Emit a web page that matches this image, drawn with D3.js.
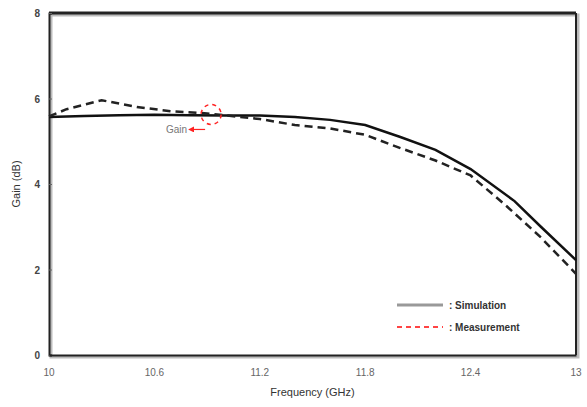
<html>
  <head>
    <script src="https://cdn.jsdelivr.net/npm/d3@7"></script>
    <style>
      body { margin: 0; background: #fff; }
      text { font-family: Arial, "Liberation Sans", sans-serif; }
    </style>
  </head>
  <body>
    <script>
      const width = 587, height = 407;

      // data
      const simFreq = [10, 10.2, 10.4, 10.6, 10.8, 11.0, 11.2, 11.4, 11.6, 11.8, 12.0, 12.2, 12.4, 12.65, 12.8, 13.0];
      const simGain = [5.57, 5.59, 5.61, 5.62, 5.61, 5.6, 5.6, 5.57, 5.5, 5.38, 5.1, 4.8, 4.35, 3.6, 3.0, 2.22];
      const measFreq = [10, 10.1, 10.3, 10.5, 10.7, 10.9, 11.2, 11.4, 11.6, 11.8, 12.0, 12.2, 12.4, 12.6, 12.8, 13.0];
      const measGain = [5.58, 5.75, 5.96, 5.8, 5.7, 5.65, 5.52, 5.38, 5.3, 5.15, 4.84, 4.55, 4.2, 3.5, 2.75, 1.9];
      const xTicks = [10, 10.6, 11.2, 11.8, 12.4, 13];
      const yTicks = [0, 2, 4, 6, 8];
      const legendLabels = [": Simulation", ": Measurement"];

      const margin = {left: 49, right: 11, top: 13, bottom: 52};

      const svg = d3.select("body").append("svg")
          .attr("width", width)
          .attr("height", height);

      const x = d3.scaleLinear().domain([10, 13]).range([margin.left, width - margin.right]);
      const y = d3.scaleLinear().domain([0, 8]).range([height - margin.bottom, margin.top]);

      // frame shadow
      svg.append("rect")
          .attr("x", x(10) + 2).attr("y", y(8) + 2)
          .attr("width", x(13) - x(10)).attr("height", y(0) - y(8))
          .attr("fill", "none").attr("stroke", "#bbb").attr("stroke-width", 3);

      // frame
      svg.append("line").attr("x1", x(10)).attr("x2", x(13)).attr("y1", y(8)).attr("y2", y(8))
          .attr("stroke", "#222").attr("stroke-width", 3);
      svg.append("line").attr("x1", x(13)).attr("x2", x(13)).attr("y1", y(8)).attr("y2", y(0))
          .attr("stroke", "#222").attr("stroke-width", 2);

      const yAxis = svg.append("g")
          .attr("transform", `translate(${x(10)},0)`)
          .call(d3.axisRight(y).tickValues(yTicks).tickSize(3).tickFormat(""));
      yAxis.select(".domain").attr("stroke", "#222").attr("stroke-width", 2);
      yAxis.selectAll(".tick line").attr("stroke", "#666");

      const xAxis = svg.append("g")
          .attr("transform", `translate(0,${y(0)})`)
          .call(d3.axisBottom(x).tickValues(xTicks).tickSize(0).tickFormat(""));
      xAxis.select(".domain").attr("stroke", "#222").attr("stroke-width", 2);

      // tick labels
      svg.selectAll(".ylab").data(yTicks).join("text")
          .attr("x", x(10) - 9).attr("y", d => y(d) + 4)
          .attr("text-anchor", "end")
          .attr("font-size", 10).attr("font-weight", "bold").attr("fill", "#444")
          .text(d => d);
      svg.selectAll(".xlab").data(xTicks).join("text")
          .attr("x", d => x(d)).attr("y", y(0) + 21)
          .attr("text-anchor", "middle")
          .attr("font-size", 10).attr("fill", "#666")
          .text(d => d);

      // axis titles
      svg.append("text")
          .attr("x", (x(10) + x(13)) / 2).attr("y", 396)
          .attr("text-anchor", "middle").attr("font-size", 11).attr("fill", "#333")
          .text("Frequency (GHz)");
      svg.append("text")
          .attr("transform", `translate(20,${y(4)}) rotate(-90)`)
          .attr("text-anchor", "middle").attr("font-size", 11).attr("fill", "#333")
          .text("Gain (dB)");

      const line = d3.line().x(d => x(d[0])).y(d => y(d[1]));

      svg.append("path")
          .datum(simFreq.map((f, i) => [f, simGain[i]]))
          .attr("d", line).attr("fill", "none")
          .attr("stroke", "#111").attr("stroke-width", 2.5);

      svg.append("path")
          .datum(measFreq.map((f, i) => [f, measGain[i]]))
          .attr("d", line).attr("fill", "none")
          .attr("stroke", "#222").attr("stroke-width", 2.5)
          .attr("stroke-dasharray", "8,5");

      // annotation: circle + arrow + "Gain"
      const cx = x(10.9) + 4, cy = y(5.65) + 1;
      svg.append("circle").attr("cx", cx).attr("cy", cy).attr("r", 10)
          .attr("fill", "none").attr("stroke", "#f22").attr("stroke-width", 1.5)
          .attr("stroke-dasharray", "4,4");
      svg.append("defs").append("marker")
          .attr("id", "arr").attr("viewBox", "0 0 10 10").attr("refX", 5).attr("refY", 5)
          .attr("markerWidth", 5).attr("markerHeight", 5).attr("orient", "auto")
          .append("path").attr("d", "M0,0L10,5L0,10Z").attr("fill", "#f22");
      svg.append("line")
          .attr("x1", cx - 6).attr("y1", cy + 15).attr("x2", cx - 20).attr("y2", cy + 15)
          .attr("stroke", "#f22").attr("stroke-width", 1.2).attr("marker-end", "url(#arr)");
      svg.append("text")
          .attr("x", cx - 24).attr("y", cy + 19).attr("text-anchor", "end")
          .attr("font-size", 10).attr("fill", "#777")
          .text("Gain");

      // legend
      const lg = svg.append("g").attr("transform", "translate(397,305)");
      lg.append("line").attr("x1", 0).attr("x2", 46).attr("y1", 0).attr("y2", 0)
          .attr("stroke", "#999").attr("stroke-width", 3);
      lg.append("line").attr("x1", 0).attr("x2", 46).attr("y1", 22).attr("y2", 22)
          .attr("stroke", "#f44").attr("stroke-width", 2).attr("stroke-dasharray", "5,4");
      lg.selectAll("text").data(legendLabels).join("text")
          .attr("x", 52).attr("y", (d, i) => i * 22 + 4)
          .attr("font-size", 10).attr("font-weight", "bold").attr("fill", "#333")
          .text(d => d);
    </script>
  </body>
</html>
